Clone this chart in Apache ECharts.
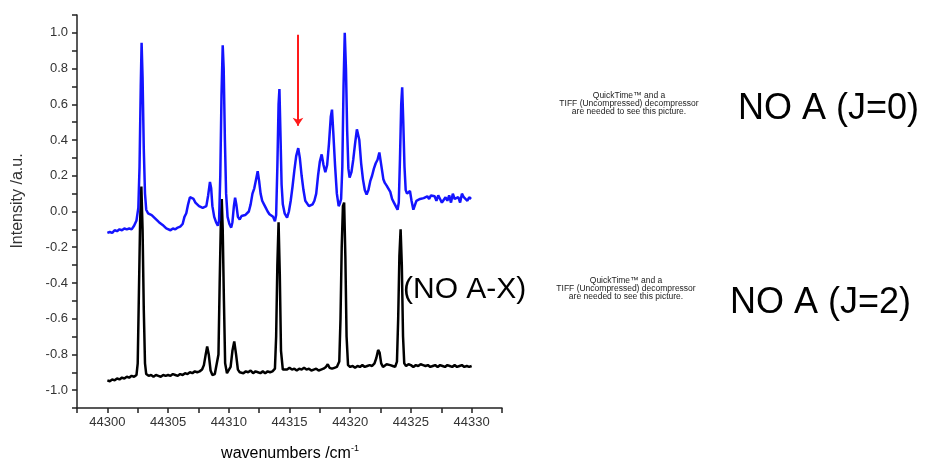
<!DOCTYPE html>
<html>
<head>
<meta charset="utf-8">
<script src="https://cdn.jsdelivr.net/npm/echarts@6/dist/echarts.min.js"></script>
<style>
html,body{margin:0;padding:0;background:#fff;}
#chart{width:926px;height:466px;}
</style>
</head>
<body>
<div id="chart"></div>
<script>
// ---- data (wavenumber [cm^-1], intensity [a.u.]) ----
const xTicks = [44300, 44305, 44310, 44315, 44320, 44325, 44330];
const yTicks = [-1.0, -0.8, -0.6, -0.4, -0.2, 0.0, 0.2, 0.4, 0.6, 0.8, 1.0];

const spectrumJ0 = [
[44300.0,-0.12],[44300.2,-0.115],[44300.4,-0.12],[44300.6,-0.105],[44300.8,-0.11],[44301.0,-0.10],
[44301.2,-0.105],[44301.4,-0.095],[44301.6,-0.10],[44301.8,-0.095],[44302.0,-0.10],[44302.2,-0.08],
[44302.4,-0.05],[44302.55,0.02],[44302.65,0.25],[44302.75,0.70],[44302.82,0.945],[44302.9,0.75],
[44303.0,0.35],[44303.1,0.10],[44303.2,0.01],[44303.35,-0.01],[44303.5,0.0],[44303.65,-0.02],
[44303.8,-0.01],[44303.95,-0.04],[44304.1,-0.035],[44304.25,-0.06],[44304.4,-0.055],[44304.55,-0.075],
[44304.7,-0.08],[44304.85,-0.095],[44305.0,-0.10],[44305.2,-0.105],[44305.4,-0.095],[44305.6,-0.10],
[44305.8,-0.09],[44306.0,-0.085],[44306.2,-0.07],[44306.35,-0.03],[44306.5,-0.01],[44306.65,0.04],
[44306.8,0.08],[44306.95,0.09],[44307.1,0.07],[44307.25,0.05],[44307.4,0.045],[44307.55,0.03],
[44307.7,0.035],[44307.85,0.02],[44308.0,0.01],[44308.15,0.03],[44308.3,0.09],[44308.45,0.165],
[44308.55,0.13],[44308.65,0.03],[44308.8,-0.03],[44308.95,-0.06],[44309.1,-0.08],[44309.2,-0.05],
[44309.3,0.2],[44309.4,0.65],[44309.5,0.93],[44309.58,0.80],[44309.68,0.40],[44309.78,0.10],
[44309.9,-0.03],[44310.05,-0.07],[44310.2,-0.09],[44310.3,-0.06],[44310.42,0.03],[44310.52,0.077],
[44310.62,0.04],[44310.75,-0.03],[44310.9,-0.045],[44311.05,-0.025],[44311.2,-0.035],[44311.35,-0.02],
[44311.5,-0.025],[44311.65,0.0],[44311.8,0.04],[44311.95,0.10],[44312.1,0.13],[44312.25,0.18],
[44312.38,0.225],[44312.5,0.17],[44312.62,0.10],[44312.75,0.06],[44312.9,0.04],[44313.05,0.02],
[44313.2,0.0],[44313.35,-0.015],[44313.5,-0.02],[44313.65,-0.03],[44313.8,-0.055],[44313.9,-0.02],
[44314.0,0.25],[44314.1,0.60],[44314.17,0.685],[44314.25,0.45],[44314.35,0.15],[44314.45,0.04],
[44314.6,-0.01],[44314.8,-0.035],[44314.95,0.0],[44315.1,0.06],[44315.25,0.14],[44315.4,0.23],
[44315.55,0.31],[44315.72,0.355],[44315.85,0.30],[44316.0,0.20],[44316.15,0.12],[44316.3,0.06],
[44316.45,0.05],[44316.6,0.03],[44316.75,0.025],[44316.9,0.04],[44317.05,0.06],[44317.2,0.10],
[44317.35,0.20],[44317.5,0.28],[44317.65,0.32],[44317.8,0.26],[44317.95,0.22],[44318.1,0.26],
[44318.25,0.38],[44318.4,0.53],[44318.5,0.57],[44318.6,0.45],[44318.75,0.26],[44318.9,0.10],
[44319.05,0.03],[44319.15,0.045],[44319.25,0.07],[44319.35,0.25],[44319.45,0.70],[44319.55,1.0],
[44319.65,0.80],[44319.75,0.45],[44319.85,0.24],[44319.95,0.19],[44320.1,0.22],[44320.25,0.29],
[44320.4,0.38],[44320.55,0.46],[44320.65,0.47],[44320.75,0.40],[44320.9,0.27],[44321.05,0.18],
[44321.2,0.12],[44321.35,0.095],[44321.5,0.12],[44321.65,0.17],[44321.8,0.20],[44321.95,0.24],
[44322.1,0.27],[44322.25,0.29],[44322.4,0.33],[44322.5,0.32],[44322.6,0.24],[44322.73,0.18],
[44322.85,0.16],[44323.0,0.145],[44323.15,0.14],[44323.3,0.11],[44323.45,0.07],[44323.6,0.05],
[44323.75,0.03],[44323.9,0.01],[44324.0,0.05],[44324.1,0.30],[44324.2,0.60],[44324.28,0.695],
[44324.37,0.50],[44324.47,0.25],[44324.57,0.12],[44324.68,0.10],[44324.8,0.10],[44324.92,0.115],
[44325.05,0.06],[44325.2,0.01],[44325.3,0.03],[44325.45,0.06],[44325.6,0.055],[44325.75,0.07],
[44325.9,0.06],[44326.05,0.075],[44326.2,0.07],[44326.35,0.085],[44326.5,0.07],[44326.65,0.09],
[44326.8,0.08],[44326.95,0.085],[44327.1,0.06],[44327.25,0.09],[44327.4,0.07],[44327.55,0.05],
[44327.7,0.04],[44327.85,0.08],[44328.0,0.06],[44328.15,0.09],[44328.3,0.05],[44328.45,0.10],
[44328.6,0.07],[44328.75,0.06],[44328.9,0.08],[44329.05,0.05],[44329.2,0.10],[44329.35,0.08],
[44329.5,0.09],[44329.65,0.06],[44329.8,0.08],[44329.95,0.07]
];

const spectrumJ2 = [
[44300.0,-0.945],[44300.2,-0.95],[44300.4,-0.94],[44300.6,-0.945],[44300.8,-0.935],[44301.0,-0.94],
[44301.2,-0.93],[44301.4,-0.935],[44301.6,-0.925],[44301.8,-0.93],[44302.0,-0.92],[44302.2,-0.925],
[44302.4,-0.915],[44302.5,-0.85],[44302.6,-0.45],[44302.7,-0.05],[44302.8,0.14],[44302.9,-0.10],
[44303.0,-0.55],[44303.1,-0.85],[44303.2,-0.91],[44303.4,-0.92],[44303.6,-0.915],[44303.8,-0.925],
[44304.0,-0.915],[44304.2,-0.92],[44304.4,-0.925],[44304.6,-0.915],[44304.8,-0.92],[44305.0,-0.915],
[44305.2,-0.92],[44305.4,-0.91],[44305.6,-0.915],[44305.8,-0.92],[44306.0,-0.91],[44306.2,-0.915],
[44306.4,-0.905],[44306.6,-0.91],[44306.8,-0.9],[44307.0,-0.905],[44307.2,-0.895],[44307.4,-0.9],
[44307.6,-0.895],[44307.8,-0.885],[44307.95,-0.86],[44308.1,-0.80],[44308.22,-0.755],[44308.35,-0.80],
[44308.5,-0.89],[44308.65,-0.915],[44308.85,-0.91],[44309.0,-0.90],[44309.15,-0.80],[44309.25,-0.40],
[44309.35,-0.05],[44309.42,0.07],[44309.5,-0.10],[44309.6,-0.50],[44309.7,-0.85],[44309.85,-0.905],
[44310.0,-0.90],[44310.15,-0.87],[44310.3,-0.78],[44310.45,-0.728],[44310.6,-0.80],[44310.75,-0.885],
[44310.9,-0.90],[44311.05,-0.895],[44311.2,-0.905],[44311.4,-0.895],[44311.6,-0.90],[44311.8,-0.89],
[44312.0,-0.905],[44312.2,-0.895],[44312.4,-0.90],[44312.6,-0.905],[44312.8,-0.895],[44313.0,-0.905],
[44313.2,-0.895],[44313.4,-0.90],[44313.6,-0.895],[44313.8,-0.88],[44313.9,-0.70],[44314.0,-0.30],
[44314.1,-0.06],[44314.2,-0.35],[44314.3,-0.78],[44314.45,-0.885],[44314.6,-0.88],[44314.8,-0.885],
[44315.0,-0.875],[44315.2,-0.885],[44315.4,-0.88],[44315.6,-0.89],[44315.8,-0.88],[44316.0,-0.885],
[44316.2,-0.875],[44316.4,-0.885],[44316.6,-0.88],[44316.8,-0.89],[44317.0,-0.885],[44317.2,-0.88],
[44317.4,-0.89],[44317.6,-0.885],[44317.8,-0.88],[44318.0,-0.87],[44318.15,-0.855],[44318.3,-0.875],
[44318.5,-0.88],[44318.7,-0.875],[44318.9,-0.87],[44319.1,-0.84],[44319.2,-0.60],[44319.3,-0.20],
[44319.4,0.03],[44319.5,0.05],[44319.6,-0.25],[44319.7,-0.70],[44319.82,-0.86],[44320.0,-0.87],
[44320.2,-0.865],[44320.4,-0.875],[44320.6,-0.865],[44320.8,-0.87],[44321.0,-0.86],[44321.2,-0.87],
[44321.4,-0.865],[44321.6,-0.86],[44321.8,-0.865],[44322.0,-0.85],[44322.15,-0.82],[44322.3,-0.775],
[44322.42,-0.79],[44322.55,-0.85],[44322.7,-0.87],[44322.85,-0.865],[44323.0,-0.855],[44323.15,-0.85],
[44323.3,-0.86],[44323.5,-0.865],[44323.7,-0.87],[44323.85,-0.84],[44323.95,-0.60],[44324.05,-0.25],
[44324.15,-0.10],[44324.25,-0.30],[44324.35,-0.70],[44324.45,-0.85],[44324.6,-0.865],[44324.8,-0.855],
[44325.0,-0.86],[44325.2,-0.87],[44325.4,-0.86],[44325.6,-0.865],[44325.8,-0.855],[44326.0,-0.86],
[44326.2,-0.865],[44326.4,-0.86],[44326.6,-0.87],[44326.8,-0.865],[44327.0,-0.86],[44327.2,-0.87],
[44327.4,-0.86],[44327.6,-0.865],[44327.8,-0.87],[44328.0,-0.86],[44328.2,-0.865],[44328.4,-0.87],
[44328.6,-0.86],[44328.8,-0.87],[44329.0,-0.865],[44329.2,-0.86],[44329.4,-0.87],[44329.6,-0.865],
[44329.8,-0.87],[44330.0,-0.865]
];

// arrow marking the feature (wavenumber, from intensity, to intensity)
const arrowMark = [44315.7, 0.99, 0.48];

// ---- chart ----
const chart = echarts.init(document.getElementById('chart'), null, {renderer: 'canvas'});
const FONT = 'Liberation Sans, Arial, sans-serif';

const option = {
  animation: false,
  backgroundColor: '#ffffff',
  grid: {left: 77, right: 424, top: 15, bottom: 58, containLabel: false},
  xAxis: {
    type: 'value',
    min: 44297.5, max: 44332.5, interval: 2.5,
    axisLine: {show: true, onZero: false, lineStyle: {color: '#222', width: 1.5}},
    axisTick: {show: true, inside: false, length: 5, lineStyle: {color: '#222', width: 1.5}},
    axisLabel: {
      show: true, margin: 8, color: '#333', fontFamily: FONT, fontSize: 13,
      formatter: function (v) { return xTicks.indexOf(v) >= 0 ? String(v) : ''; }
    },
    splitLine: {show: false}
  },
  yAxis: {
    type: 'value',
    min: -1.1, max: 1.1, interval: 0.1,
    axisLine: {show: true, onZero: false, lineStyle: {color: '#222', width: 1.5}},
    axisTick: {show: true, inside: false, length: 5, lineStyle: {color: '#222', width: 1.5}},
    axisLabel: {
      show: true, margin: 9, color: '#333', fontFamily: FONT, fontSize: 13,
      formatter: function (v) {
        const r = Math.round(v * 10);
        const val = r / 10;
        for (let i = 0; i < yTicks.length; i++) {
          if (Math.abs(yTicks[i] - val) < 1e-6) return val.toFixed(1);
        }
        return '';
      }
    },
    splitLine: {show: false}
  },
  series: [
    {
      name: 'NO A (J=2)', type: 'line', data: spectrumJ2, showSymbol: false, symbol: 'none',
      lineStyle: {color: '#000000', width: 2.5}, z: 2, silent: true
    },
    {
      name: 'NO A (J=0)', type: 'line', data: spectrumJ0, showSymbol: false, symbol: 'none',
      lineStyle: {color: '#1414ff', width: 2.5}, z: 3, silent: true,
      markLine: {
        silent: true, animation: false,
        symbol: ['none', 'arrow'], symbolSize: 8,
        label: {show: false},
        lineStyle: {color: '#ff1a1a', width: 2, type: 'solid'},
        emphasis: {disabled: true},
        data: [[{coord: [arrowMark[0], arrowMark[1]]}, {coord: [arrowMark[0], arrowMark[2]]}]]
      }
    }
  ],
  graphic: [
    {type: 'text', rotation: Math.PI / 2, x: 18, y: 201,
     style: {text: 'Intensity /a.u.', font: '16px ' + FONT, fill: '#333', align: 'center', verticalAlign: 'middle'}},
    {type: 'text', x: 290, y: 454,
     style: {text: '{a|wavenumbers /cm}{b|-1}', align: 'center', verticalAlign: 'middle',
       rich: {a: {fontFamily: FONT, fontSize: 16, color: '#333'},
              b: {fontFamily: FONT, fontSize: 9, color: '#333', verticalAlign: 'top', padding: [0, 0, 10, 0]}}}},
    {type: 'text', x: 629, y: 104,
     style: {text: 'QuickTime\u2122 and a\nTIFF (Uncompressed) decompressor\nare needed to see this picture.',
       font: '8.5px ' + FONT, fill: '#222', align: 'center', verticalAlign: 'middle', lineHeight: 8}},
    {type: 'text', x: 626, y: 289,
     style: {text: 'QuickTime\u2122 and a\nTIFF (Uncompressed) decompressor\nare needed to see this picture.',
       font: '8.5px ' + FONT, fill: '#222', align: 'center', verticalAlign: 'middle', lineHeight: 8}},
    {type: 'text', x: 738, y: 109,
     style: {text: 'NO A (J=0)', font: '36px ' + FONT, fill: '#000', align: 'left', verticalAlign: 'middle'}},
    {type: 'text', x: 403, y: 290,
     style: {text: '(NO A-X)', font: '30px ' + FONT, fill: '#000', align: 'left', verticalAlign: 'middle'}},
    {type: 'text', x: 730, y: 303,
     style: {text: 'NO A (J=2)', font: '36px ' + FONT, fill: '#000', align: 'left', verticalAlign: 'middle'}}
  ]
};
chart.setOption(option);
</script>
</body>
</html>
